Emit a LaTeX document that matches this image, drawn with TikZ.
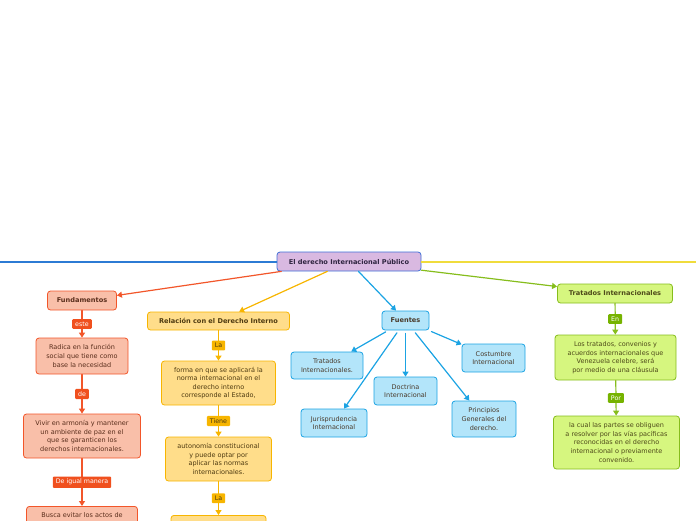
\documentclass[tikz,border=0pt]{standalone}
\usepackage{fontspec}
\setmainfont{DejaVu Sans}
\usetikzlibrary{arrows.meta}

\definecolor{hubfill}{HTML}{D9B9E1}
\definecolor{hubline}{HTML}{3F6FD6}
\definecolor{hubtext}{HTML}{2E2440}
\definecolor{orfill}{HTML}{F9BFA9}
\definecolor{orline}{HTML}{F2562A}
\definecolor{ortag}{HTML}{F0501E}
\definecolor{ortext}{HTML}{5A2E1C}
\definecolor{yefill}{HTML}{FFDD8A}
\definecolor{yeline}{HTML}{F7B500}
\definecolor{yetext}{HTML}{4E3A10}
\definecolor{cyfill}{HTML}{B3E5FA}
\definecolor{cyline}{HTML}{1BA3E3}
\definecolor{cytext}{HTML}{4A3A2A}
\definecolor{grfill}{HTML}{D6F67F}
\definecolor{grline}{HTML}{86BD1C}
\definecolor{grtag}{HTML}{76B300}
\definecolor{grtext}{HTML}{4E4A1A}
\definecolor{leftline}{HTML}{2C7BD4}
\definecolor{rightline}{HTML}{F0DC3C}

\begin{document}
\begin{tikzpicture}[
  x=1pt,y=-1pt,
  line cap=round,
  line join=round,
  every node/.style={font=\fontsize{6.5}{8.6}\selectfont},
  box/.style={draw,rounded corners=3pt,line width=.8pt,align=center,inner sep=2pt},
  bold/.style={font=\fontsize{6.6}{8.6}\selectfont\bfseries},
  hubbox/.style={box,bold,draw=hubline,fill=hubfill,text=hubtext},
  obox/.style={box,draw=orline,fill=orfill,text=ortext},
  ybox/.style={box,draw=yeline,fill=yefill,text=yetext},
  cbox/.style={box,draw=cyline,fill=cyfill,text=cytext},
  gbox/.style={box,draw=grline,fill=grfill,text=grtext},
  tag/.style={rounded corners=1pt,inner xsep=3pt,inner ysep=2.6pt,font=\fontsize{6.3}{7}\selectfont},
  otag/.style={tag,fill=ortag,text=white},
  ytag/.style={tag,fill=yeline,text=yetext},
  gtag/.style={tag,fill=grtag,text=white},
  tip/.style={-{Triangle[width=6pt,length=5pt]}},
  olink/.style={draw=orline,line width=1.2pt,tip},
  ylink/.style={draw=yeline,line width=1.2pt,tip},
  clink/.style={draw=cyline,line width=1.2pt,tip},
  glink/.style={draw=grline,line width=1.2pt,tip}
]
% Page frame (pixel units, y downwards).
\useasboundingbox (0,0) rectangle (696,520);

% Central topic.
\node[hubbox,minimum width=144pt,minimum height=19pt] (hub) at (349,261.5)
  {El derecho Internacional Público};
\coordinate (offleft) at (-10,262);
\coordinate (offright) at (706,262);
\draw[leftline,line width=1.4pt] (hub.west |- offleft) -- (offleft);
\draw[rightline,line width=1.4pt] (hub.east |- offright) -- (offright);

% Fundamentos branch.
\node[obox,bold,minimum width=69pt,minimum height=19pt] (fund) at (82,300.5) {Fundamentos};
\node[obox,minimum width=92pt,minimum height=36pt] (radica) at (82,356)
  {Radica en la función\\social que tiene como\\base la necesidad};
\node[obox,minimum width=117pt,minimum height=44pt] (vivir) at (82,436)
  {Vivir en armonía y mantener\\un ambiente de paz en el\\que se garanticen los\\derechos internacionales.};
\node[obox,anchor=north,minimum width=111pt,inner ysep=6pt,text depth=16pt] (busca) at (82,506)
  {Busca evitar los actos de};
\draw[olink] (hub) -- (fund);
\draw[olink] (fund) -- node[otag] {este} (radica);
\draw[olink] (radica) -- node[otag] {de} (vivir);
\draw[olink] (vivir) -- node[otag] {De igual manera} (busca);

% Derecho interno branch.
\node[ybox,bold,minimum width=142pt,minimum height=18pt] (rel) at (218.5,321)
  {Relación con el Derecho Interno};
\node[ybox,minimum width=114pt,minimum height=44pt] (forma) at (218.5,383)
  {forma en que se aplicará la\\norma internacional en el\\derecho interno\\corresponde al Estado,};
\node[ybox,minimum width=106pt,minimum height=44pt] (auto) at (218.5,459)
  {autonomía constitucional\\y puede optar por\\aplicar las normas\\internacionales.};
\node[ybox,anchor=north,minimum width=95pt,minimum height=20pt] (ynext) at (218.5,515) {};
\draw[ylink] (hub) -- (rel);
\draw[ylink] (rel) -- node[ytag] {La} (forma);
\draw[ylink] (forma) -- node[ytag] {Tiene} (auto);
\draw[ylink] (auto) -- node[ytag] {La} (ynext);

% Fuentes branch.
\node[cbox,bold,minimum width=47pt,minimum height=19pt] (fuentes) at (405.5,320.5) {Fuentes};
\node[cbox,minimum width=72pt,minimum height=27pt] (tratf) at (327,365.5)
  {Tratados\\Internacionales.};
\node[cbox,minimum width=66pt,minimum height=28pt] (juris) at (334,423)
  {Jurisprudencia\\Internacional};
\node[cbox,minimum width=63pt,minimum height=28pt] (doct) at (405.5,391)
  {Doctrina\\Internacional};
\node[cbox,minimum width=64pt,minimum height=36pt] (princ) at (484,419)
  {Principios\\Generales del\\derecho.};
\node[cbox,minimum width=63pt,minimum height=28pt] (cost) at (493.5,358)
  {Costumbre\\Internacional};
\draw[clink] (hub) -- (fuentes);
\foreach \kid in {tratf,juris,doct,princ,cost}
  \draw[clink,shorten <=3pt] (fuentes) -- (\kid);

% Tratados branch.
\node[gbox,bold,minimum width=115pt,minimum height=19pt] (trat) at (615,293.5)
  {Tratados Internacionales};
\node[gbox,minimum width=121pt,minimum height=45pt] (lostrat) at (615.5,357.5)
  {Los tratados, convenios y\\acuerdos internacionales que\\Venezuela celebre, será\\por medio de una cláusula};
\node[gbox,minimum width=126pt,minimum height=53pt] (lacual) at (616.5,442.5)
  {la cual las partes se obliguen\\a resolver por las vías pacíficas\\reconocidas en el derecho\\internacional o previamente\\convenido.};
\draw[glink] (hub) -- (trat);
\draw[glink] (trat) -- node[gtag] {En} (lostrat);
\draw[glink] (lostrat) -- node[gtag] {Por} (lacual);
\end{tikzpicture}
\end{document}
